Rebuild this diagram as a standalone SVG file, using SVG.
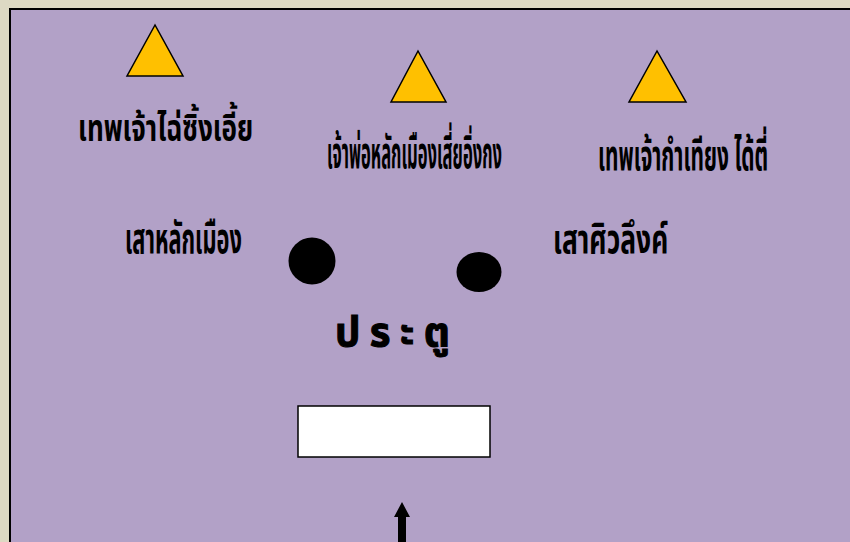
<svg xmlns="http://www.w3.org/2000/svg" width="850" height="542" viewBox="0 0 850 542">
<style>
.th{font-family:"Noto Sans Thai","Noto Sans","DejaVu Sans",sans-serif;font-weight:bold;fill:#000}
.tri{fill:#FFC000;stroke:#000;stroke-width:1.5;stroke-linejoin:miter}
.dot{fill:#000}
</style>
<rect x="0" y="0" width="850" height="542" fill="#DDD9C3"/>
<rect x="10" y="9" width="845" height="540" fill="#B2A1C7" stroke="#000" stroke-width="2"/>
<g id="node-tri1"><polygon class="tri" points="155,25 127,76 183,76"/></g>
<g id="node-tri2"><polygon class="tri" points="418,51 391,102 446,102"/></g>
<g id="node-tri3"><polygon class="tri" points="657,51 629,102 686,102"/></g>
<g id="label1"><text class="th" transform="translate(78,141) scale(0.59,1)" x="0" y="0" font-size="38" textLength="297" lengthAdjust="spacingAndGlyphs">เทพเจ้าไฉ่ซิ้งเอี้ย</text></g>
<g id="label2"><text class="th" transform="translate(327,168) scale(0.36,1)" x="0" y="0" font-size="44" textLength="486" lengthAdjust="spacingAndGlyphs">เจ้าพ่อหลักเมืองเสี่ยอิ่งกง</text></g>
<g id="label3"><text class="th" transform="translate(598,170) scale(0.42,1)" x="0" y="0" font-size="42" textLength="405" lengthAdjust="spacingAndGlyphs">เทพเจ้ากำเทียง ได้ตี่</text></g>
<g id="label-pillar1"><text class="th" transform="translate(125,253) scale(0.46,1)" x="0" y="0" font-size="42" textLength="254" lengthAdjust="spacingAndGlyphs">เสาหลักเมือง</text></g>
<g id="label-pillar2"><text class="th" transform="translate(553,253) scale(0.6,1)" x="0" y="0" font-size="40" textLength="192" lengthAdjust="spacingAndGlyphs">เสาศิวลึงค์</text></g>
<g id="node-pillar1"><circle class="dot" cx="312" cy="261" r="23.5"/></g>
<g id="node-pillar2"><ellipse class="dot" cx="479" cy="272" rx="22.5" ry="20"/></g>
<g id="label-gate"><text class="th" x="335" y="346" font-size="40" textLength="115" lengthAdjust="spacing" stroke="#000" stroke-width="1">ประตู</text></g>
<g id="node-gate"><rect x="298" y="406" width="192" height="51" fill="#fff" stroke="#000" stroke-width="1.5"/></g>
<g id="connectors"><polygon fill="#000" points="402,502 394,517 398,517 398,542 406,542 406,517 410,517"/></g>
</svg>
